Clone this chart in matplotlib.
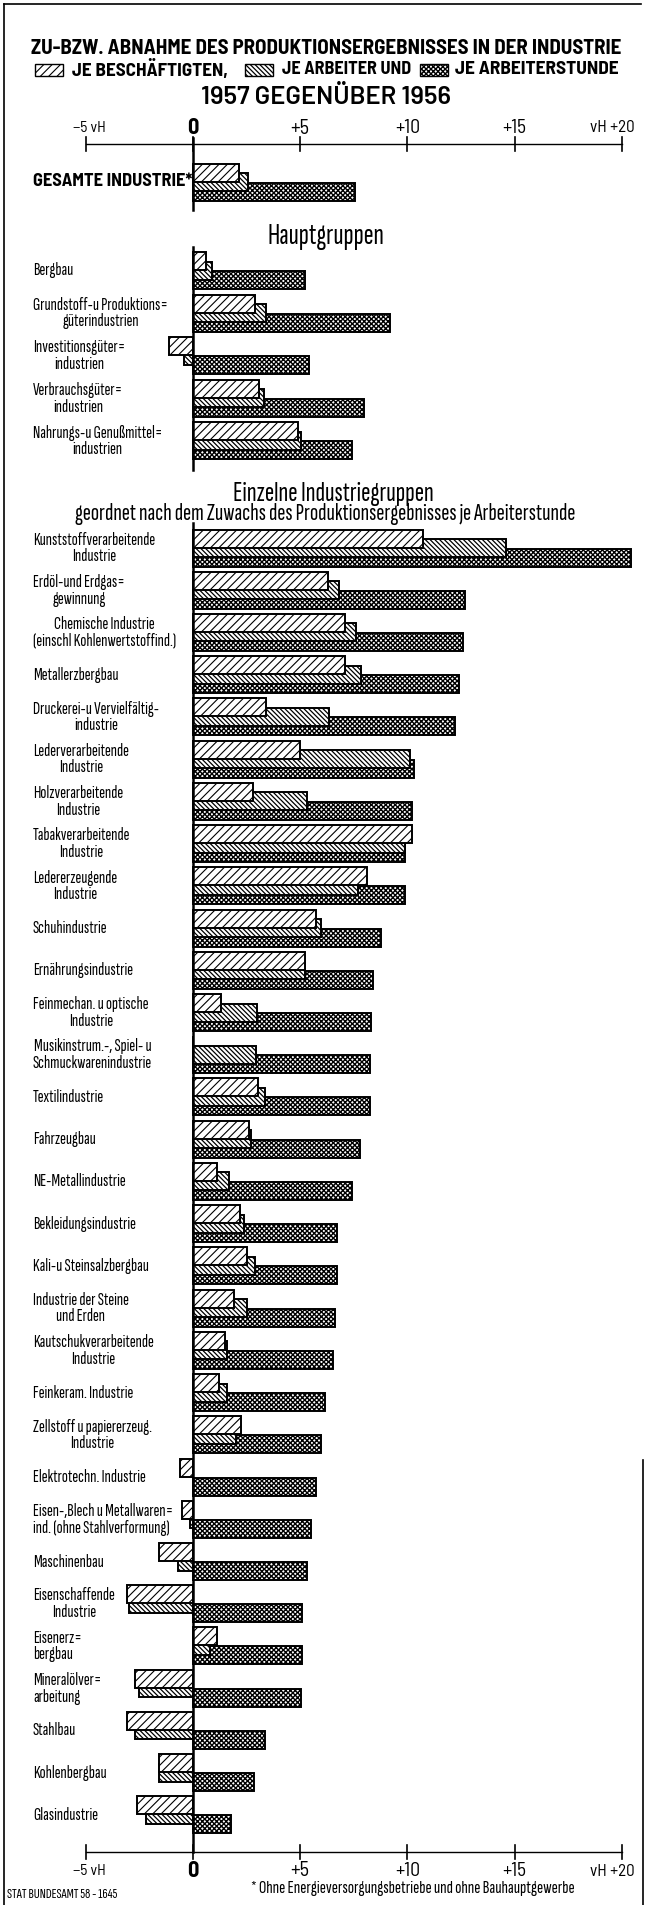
import numpy as np
import matplotlib.pyplot as plt
from matplotlib import font_manager as fm
from matplotlib.patches import Rectangle

installed = {f.name for f in fm.fontManager.ttflist}


def pick(names):
    for n in names:
        if n in installed:
            return [n, 'DejaVu Sans']
    return ['DejaVu Sans']


LAB = pick(['Sofia Sans Extra Condensed', 'Fira Sans Extra Condensed',
            'Saira Extra Condensed', 'Pathway Gothic One', 'Barlow Condensed'])
HEAD = pick(['Barlow Semi Condensed', 'Barlow Condensed'])
WIDE = pick(['Barlow', 'Barlow Semi Condensed'])
plt.rcParams['font.family'] = LAB

# Werte in vH, 1957 gegenueber 1956
gesamt = [2.13, 2.55, 7.55]

haupt_labels = ["Bergbau", "Grundstoff-u Produktions=\ngüterindustrien",
                "Investitionsgüter=\nindustrien", "Verbrauchsgüter=\nindustrien",
                "Nahrungs-u Genußmittel=\nindustrien"]
haupt_besch = [0.6, 2.9, -1.1, 3.1, 4.9]
haupt_arb = [0.9, 3.4, -0.4, 3.3, 5.05]
haupt_std = [5.2, 9.2, 5.4, 7.95, 7.4]

einzel_labels = [
    "Kunststoffverarbeitende\nIndustrie", "Erdöl-und Erdgas=\ngewinnung",
    "Chemische Industrie\n(einschl Kohlenwertstoffind.)", "Metallerzbergbau",
    "Druckerei-u Vervielfältig-\nindustrie", "Lederverarbeitende\nIndustrie",
    "Holzverarbeitende\nIndustrie", "Tabakverarbeitende\nIndustrie",
    "Ledererzeugende\nIndustrie", "Schuhindustrie", "Ernährungsindustrie",
    "Feinmechan. u optische\nIndustrie", "Musikinstrum.-, Spiel- u\nSchmuckwarenindustrie",
    "Textilindustrie", "Fahrzeugbau", "NE-Metallindustrie", "Bekleidungsindustrie",
    "Kali-u Steinsalzbergbau", "Industrie der Steine\nund Erden",
    "Kautschukverarbeitende\nIndustrie", "Feinkeram. Industrie",
    "Zellstoff u papiererzeug.\nIndustrie", "Elektrotechn. Industrie",
    "Eisen-,Blech u Metallwaren=\nind. (ohne Stahlverformung)", "Maschinenbau",
    "Eisenschaffende\nIndustrie", "Eisenerz=\nbergbau", "Mineralölver=\narbeitung",
    "Stahlbau", "Kohlenbergbau", "Glasindustrie"]
einzel_besch = [10.7, 6.3, 7.1, 7.1, 3.4, 5.0, 2.8, 10.2, 8.1, 5.75, 5.2, 1.3, 0.0,
                3.05, 2.6, 1.1, 2.2, 2.5, 1.9, 1.5, 1.2, 2.25, -0.6, -0.5, -1.6, -3.1,
                1.1, -2.7, -3.1, -1.6, -2.6]
einzel_arb = [14.6, 6.8, 7.6, 7.85, 6.35, 10.1, 5.3, 9.9, 7.7, 5.95, 5.2, 3.0, 2.95,
              3.35, 2.7, 1.7, 2.4, 2.9, 2.5, 1.6, 1.6, 2.0, 0.0, -0.15, -0.7, -3.0,
              0.8, -2.5, -2.7, -1.6, -2.2]
einzel_std = [20.4, 12.7, 12.6, 12.4, 12.2, 10.3, 10.2, 9.9, 9.9, 8.75, 8.4, 8.3, 8.25,
              8.25, 7.8, 7.4, 6.7, 6.7, 6.6, 6.55, 6.15, 5.95, 5.75, 5.5, 5.3, 5.1,
              5.1, 5.05, 3.35, 2.85, 1.75]
left_aligned = {"Eisen-,Blech u Metallwaren=\nind. (ohne Stahlverformung)",
                "Eisenerz=\nbergbau", "Mineralölver=\narbeitung"}

ticks = [-5, 0, 5, 10, 15, 20]
tick_labels = ["−5 vH", "0", "+5", "+10", "+15", "vH +20"]

# layout (pixel rows, x in vH)
W, H = 645, 1905
x0_px, unit_px = 193, 21.45


def px(x):
    return (x - x0_px) / unit_px


y_gesamt = 182
y_haupt = 270.5 + 42.6 * np.arange(len(haupt_labels))
y_einzel = 548 + 42.23 * np.arange(len(einzel_labels))

fig = plt.figure(figsize=(W / 100, H / 100), dpi=100)
ax = fig.add_axes([0, 0, 1, 1])
ax.set_xlim(px(0), px(W))
ax.set_ylim(H, 0)
ax.axis('off')
rend = fig.canvas.get_renderer()


def fit(t, width):
    w = t.get_window_extent(rend).width
    t.set_fontsize(t.get_fontsize() * width / w)
    return t


styles = [dict(hatch='////', zorder=4), dict(hatch='\\\\\\\\\\\\\\', zorder=3),
          dict(hatch='xxxxxxx', zorder=2)]
hatch_lw = [0.8, 0.9, 1.0]
bh, off = 18, 9.5


def bars(y, b, a, s):
    y = np.atleast_1d(y)
    for k, vals in enumerate([b, a, s]):
        plt.rcParams['hatch.linewidth'] = hatch_lw[k]
        ax.barh(y + (k - 1) * off, vals, height=bh, color='white', edgecolor='black',
                linewidth=1.4, **styles[k])


bars(y_gesamt, [gesamt[0]], [gesamt[1]], [gesamt[2]])
bars(y_haupt, haupt_besch, haupt_arb, haupt_std)
bars(y_einzel, einzel_besch, einzel_arb, einzel_std)

# zero lines
for y1, y2 in [(138, 210), (247, 470), (523, 1852)]:
    ax.plot([0, 0], [y1, y2], color='black', lw=1.8, zorder=5)

# label size from the widest reference label
probe = ax.text(0, 0, "Kunststoffverarbeitende", fontsize=10)
fs_lab = fit(probe, 122).get_fontsize()
probe.remove()

# axes at top and bottom
tick_w = {"−5 vH": 33, "+5": 19, "+10": 25, "+15": 24, "vH +20": 45}
for ya, yl in [(144, 128), (1852, 1871)]:
    ax.plot([-5, 20], [ya, ya], color='black', lw=1.0)
    for t, lab in zip(ticks, tick_labels):
        ax.plot([t, t], [ya - 7, ya + 7], color='black', lw=1.2)
        if t == 0:
            ax.text(t, yl, lab, ha='center', va='center', fontsize=16, fontweight='bold',
                    family=HEAD)
        elif t == -5:
            fit(ax.text(t - 0.6, yl, lab, ha='left', va='center', fontsize=12,
                        family=HEAD), tick_w[lab])
        elif t == 20:
            fit(ax.text(t + 0.6, yl, lab, ha='right', va='center', fontsize=12,
                        family=HEAD), tick_w[lab])
        else:
            fit(ax.text(t, yl, lab, ha='center', va='center', fontsize=12,
                        family=HEAD), tick_w[lab])

# labels
fit(ax.text(px(33), y_gesamt, "GESAMTE INDUSTRIE*", ha='left', va='center',
            fontsize=13, fontweight='bold', family=HEAD), 160)
for y, lab in zip(y_haupt, haupt_labels):
    ax.text(px(33), y, lab, ha='left', va='center', fontsize=fs_lab,
            multialignment='center', linespacing=1.05)
for y, lab in zip(y_einzel, einzel_labels):
    ax.text(px(33), y, lab, ha='left', va='center', fontsize=fs_lab,
            multialignment='left' if lab in left_aligned else 'center',
            linespacing=1.05)

fit(ax.text(px(326), 236, "Hauptgruppen", ha='center', va='center', fontsize=14), 116)
fit(ax.text(px(333), 494, "Einzelne Industriegruppen", ha='center', va='center',
            fontsize=14), 200)
fit(ax.text(px(325), 514, "geordnet nach dem Zuwachs des Produktionsergebnisses je Arbeiterstunde",
            ha='center', va='center', fontsize=11), 500)

# title and legend
fit(ax.text(px(326), 48, "ZU-BZW. ABNAHME DES PRODUKTIONSERGEBNISSES IN DER INDUSTRIE",
            ha='center', va='center', fontsize=15, fontweight='bold', family=HEAD), 590)
leg = [(35, 72, 156, "JE BESCHÄFTIGTEN,"), (245, 282, 129, "JE ARBEITER UND"),
       (420, 455, 164, "JE ARBEITERSTUNDE")]
for k, (xp, xt, wt, lab) in enumerate(leg):
    plt.rcParams['hatch.linewidth'] = hatch_lw[k]
    ax.add_patch(Rectangle((px(xp), 64), 28 / unit_px, 12, facecolor='white',
                           edgecolor='black', lw=1.0, hatch=styles[k]['hatch']))
    fit(ax.text(px(xt), 70, lab, ha='left', va='center', fontsize=15, fontweight='bold',
                family=HEAD), wt)
fit(ax.text(px(326), 97, "1957 GEGENÜBER 1956", ha='center', va='center', fontsize=15,
            fontweight='semibold', family=WIDE), 250)

# footer
fit(ax.text(px(7), 1894, "STAT BUNDESAMT 58 - 1645", ha='left', va='center',
            fontsize=8), 110)
fit(ax.text(px(251), 1889, "* Ohne Energieversorgungsbetriebe und ohne Bauhauptgewerbe",
            ha='left', va='center', fontsize=9.5), 325)

# frame
ax.plot([px(4), px(4)], [4, H], color='black', lw=1.2)
ax.plot([px(4), px(641)], [4, 4], color='black', lw=1.2)
ax.plot([px(643), px(643)], [1460, H], color='black', lw=1.2)

fig.savefig('out.png', dpi=100)
